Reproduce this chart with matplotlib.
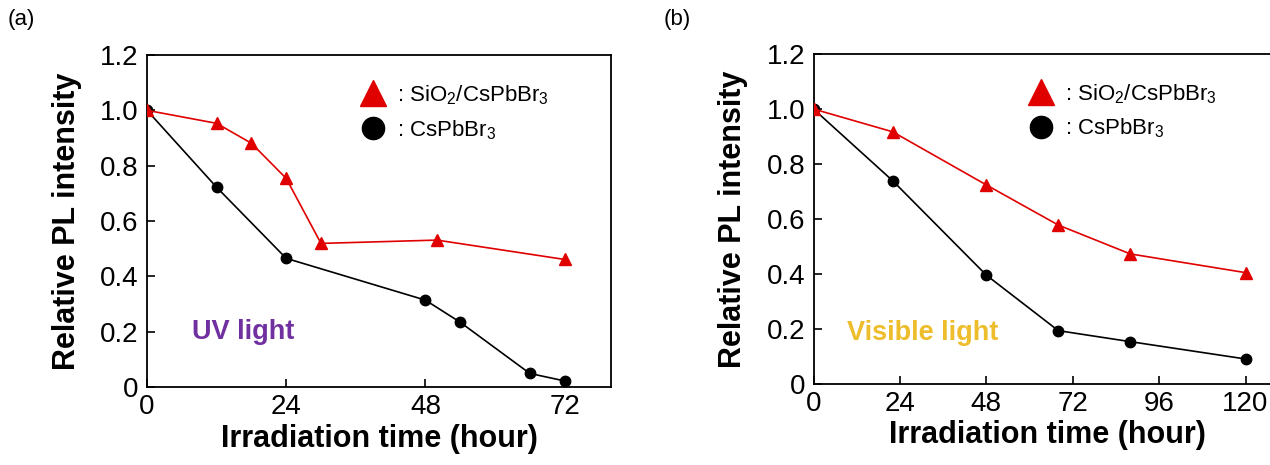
import matplotlib
matplotlib.use("Agg")
import matplotlib.pyplot as plt
from matplotlib.lines import Line2D

# panel (a): UV light
uv_time_sio2 = [0, 12, 18, 24, 30, 50, 72]
uv_pl_sio2 = [1.0, 0.953, 0.881, 0.754, 0.519, 0.531, 0.461]
uv_time_bare = [0, 12, 24, 48, 54, 66, 72]
uv_pl_bare = [1.0, 0.722, 0.465, 0.314, 0.234, 0.049, 0.022]

# panel (b): visible light
vis_time_sio2 = [0, 22, 48, 68, 88, 120]
vis_pl_sio2 = [1.0, 0.917, 0.724, 0.578, 0.473, 0.405]
vis_time_bare = [0, 22, 48, 68, 88, 120]
vis_pl_bare = [1.0, 0.739, 0.396, 0.194, 0.154, 0.091]

yticks = [0, 0.2, 0.4, 0.6, 0.8, 1.0, 1.2]
ytick_labels = ["0", "0.2", "0.4", "0.6", "0.8", "1.0", "1.2"]
xticks_a = [0, 24, 48, 72]
xticks_b = [0, 24, 48, 72, 96, 120]

RED = "#e00000"
FONT = ["Liberation Sans", "DejaVu Sans"]

plt.rcParams["font.family"] = FONT
plt.rcParams["mathtext.fontset"] = "custom"
plt.rcParams["mathtext.rm"] = "Liberation Sans"
plt.rcParams["mathtext.it"] = "Liberation Sans"


def draw_panel(ax, t_sio2, pl_sio2, t_bare, pl_bare, xticks, xmax, note, note_color, note_xy):
    ax.plot(t_bare, pl_bare, color="black", lw=1.2, marker="o", ms=7.5, zorder=3)
    ax.plot(t_sio2, pl_sio2, color=RED, lw=1.2, marker="^", ms=8.5, zorder=4)

    ax.set_xlim(0, xmax)
    ax.set_ylim(0, 1.2)
    ax.set_xticks(xticks)
    ax.set_yticks(yticks)
    ax.set_yticklabels(ytick_labels)
    ax.tick_params(direction="in", length=6, width=1.2, labelsize=20, pad=6)
    ax.tick_params(axis="x", pad=5)
    for sp in ax.spines.values():
        sp.set_linewidth(1.3)

    ax.set_ylabel("Relative PL intensity", fontsize=22, fontweight="bold")
    ax.set_xlabel("Irradiation time (hour)", fontsize=22, fontweight="bold")
    ax.yaxis.set_label_coords(-0.14, 0.5)
    ax.xaxis.set_label_coords(0.5, -0.11)

    ax.text(note_xy[0], note_xy[1], note, color=note_color, fontsize=19.5,
            fontweight="bold", va="center", ha="left")

    handles = [
        Line2D([], [], color=RED, marker="^", ls="none", ms=19),
        Line2D([], [], color="black", marker="o", ls="none", ms=16),
    ]
    labels = [": SiO$_2$/CsPbBr$_3$", ": CsPbBr$_3$"]
    ax.legend(handles, labels, loc="upper left", bbox_to_anchor=(0.41, 0.955),
              frameon=False, fontsize=16, handletextpad=0.1, labelspacing=0.5,
              borderaxespad=0.2)


fig = plt.figure(figsize=(12.7, 4.65), dpi=100)
ax_a = fig.add_axes([147 / 1270, 78 / 465, 464 / 1270, 332 / 465])
ax_b = fig.add_axes([813.5 / 1270, 81 / 465, 468 / 1270, 330 / 465])

draw_panel(ax_a, uv_time_sio2, uv_pl_sio2, uv_time_bare, uv_pl_bare,
           xticks_a, 80, "UV light", "#7030a0", (7.8, 0.2))
draw_panel(ax_b, vis_time_sio2, vis_pl_sio2, vis_time_bare, vis_pl_bare,
           xticks_b, 130, "Visible light", "#eebd2c", (9.2, 0.185))

fig.text(8 / 1270, 1 - 20 / 465, "(a)", fontsize=16, va="center")
fig.text(664 / 1270, 1 - 20 / 465, "(b)", fontsize=16, va="center")

fig.savefig("out.png", dpi=100)
